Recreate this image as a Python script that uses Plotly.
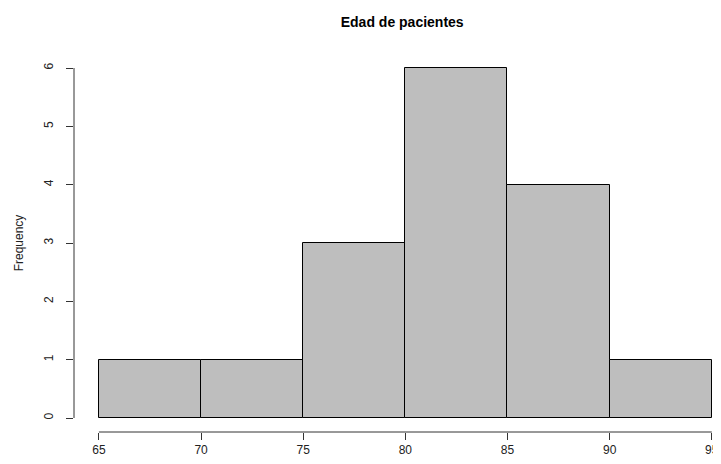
import plotly.graph_objects as go

bin_left = [65, 70, 75, 80, 85, 90]
bin_width = 5
counts = [1, 1, 3, 6, 4, 1]
x_ticks = [65, 70, 75, 80, 85, 90, 95]
y_ticks = [0, 1, 2, 3, 4, 5, 6]
title = "Edad de pacientes"
y_title = "Frequency"

fig = go.Figure()
fig.add_trace(go.Bar(
    x=bin_left, y=counts, width=[bin_width] * len(bin_left), offset=0,
    marker=dict(color="#BEBEBE", line=dict(color="#000000", width=1)),
    hoverinfo="x+y", showlegend=False,
))

axis_color = "#333333"
fig.update_layout(
    width=713, height=448,
    margin=dict(l=66, r=8, t=46, b=24, autoexpand=False),
    paper_bgcolor="white", plot_bgcolor="white",
    font=dict(family="Liberation Sans, Arial, sans-serif", size=12, color="#222222"),
    bargap=0,
    title=dict(text="<b>" + title + "</b>", x=0.5136, xref="paper", xanchor="center",
               y=1 - 14 / 448, yref="container", yanchor="middle",
               font=dict(size=14, color="#000000")),
    xaxis=dict(range=[63.78, 95.06], tickvals=x_ticks, ticks="outside", ticklen=7,
               tickcolor=axis_color, showgrid=False, zeroline=False, showline=False,
               tickfont=dict(size=12), automargin=False),
    yaxis=dict(range=[-0.24, 6.24], tickvals=y_ticks, ticks="outside", ticklen=7,
               tickcolor=axis_color, showgrid=False, zeroline=False, showline=False,
               tickangle=-90, tickfont=dict(size=12), ticklabelstandoff=8, automargin=False,
               title=dict(text=y_title, standoff=16, font=dict(size=12))),
    shapes=[
        dict(type="line", xref="x", yref="paper", x0=x_ticks[0], x1=x_ticks[-1], y0=0, y1=0,
             line=dict(color=axis_color, width=1)),
        dict(type="line", xref="paper", yref="y", x0=0, x1=0, y0=y_ticks[0], y1=y_ticks[-1],
             line=dict(color=axis_color, width=1)),
    ],
)

fig.write_html("out.html")
